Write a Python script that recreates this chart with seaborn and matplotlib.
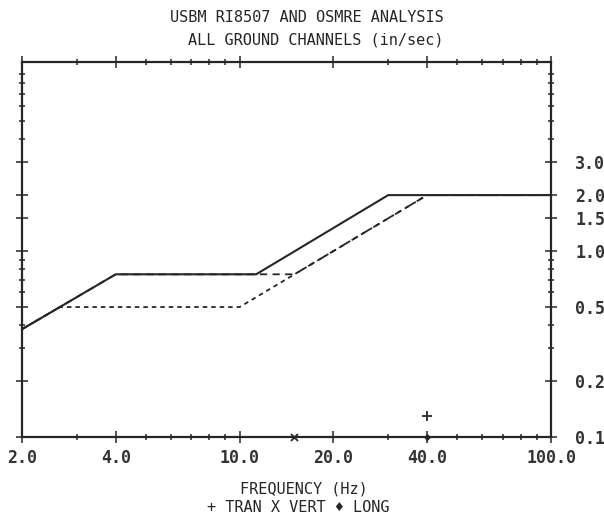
import pandas as pd
import seaborn as sns
import matplotlib.pyplot as plt

# krivulje granicnih brzina (in/sec) u ovisnosti o frekvenciji (Hz)
usbm_hz = [2.0, 4.0, 11.3, 30.0, 100.0]          # puna linija
usbm_ips = [0.38, 0.75, 0.75, 2.0, 2.0]
osmre_hz = [2.0, 4.0, 15.0, 40.0, 100.0]         # isprekidana linija
osmre_ips = [0.38, 0.75, 0.75, 2.0, 2.0]
plaster_hz = [2.0, 2.65, 10.0, 40.0, 100.0]      # tockasta linija
plaster_ips = [0.38, 0.5, 0.5, 2.0, 2.0]

# izmjerene vrsne brzine po kanalima
tran_hz, tran_ips = [40.0], [0.13]
vert_hz, vert_ips = [15.0], [0.1]
long_hz, long_ips = [40.0], [0.1]

x_ticks = [2.0, 4.0, 10.0, 20.0, 40.0, 100.0]
x_labels = ["2.0", "4.0", "10.0", "20.0", "40.0", "100.0"]
x_minor = [3, 5, 6, 7, 8, 9, 30, 50, 60, 70, 80, 90]
y_ticks = [0.1, 0.2, 0.5, 1.0, 1.5, 2.0, 3.0]
y_labels = ["0.1", "0.2", "0.5", "1.0", "1.5", "2.0", "3.0"]
y_minor = [0.3, 0.4, 0.6, 0.7, 0.8, 0.9, 4, 5, 6, 7, 8, 9]

sns.set_style("ticks")
plt.rcParams['font.family'] = ['DejaVu Sans Mono', 'DejaVu Sans']
ink = "#262626"

fig = plt.figure(figsize=(6.04, 5.21), dpi=100)
ax = fig.add_axes([22 / 604, 84 / 521, 529 / 604, 375 / 521])

usbm = pd.DataFrame({"hz": usbm_hz, "ips": usbm_ips})
osmre = pd.DataFrame({"hz": osmre_hz, "ips": osmre_ips})
plaster = pd.DataFrame({"hz": plaster_hz, "ips": plaster_ips})

sns.lineplot(data=plaster, x="hz", y="ips", ax=ax, color=ink, lw=1.3,
             dashes=False, sort=False, estimator=None).lines[-1].set_dashes((2.5, 2.2))
sns.lineplot(data=osmre, x="hz", y="ips", ax=ax, color=ink, lw=1.3,
             sort=False, estimator=None).lines[-1].set_dashes((4, 3))
sns.lineplot(data=usbm, x="hz", y="ips", ax=ax, color=ink, lw=1.5,
             sort=False, estimator=None)

sns.scatterplot(x=tran_hz, y=tran_ips, ax=ax, marker="+", s=45, color=ink,
                linewidth=1.3, clip_on=False)
sns.scatterplot(x=vert_hz, y=vert_ips, ax=ax, marker="x", s=25, color=ink,
                linewidth=1.3, clip_on=False)
sns.scatterplot(x=long_hz, y=long_ips, ax=ax, marker="D", s=14, color=ink,
                linewidth=0, clip_on=False)

ax.set_xscale("log")
ax.set_yscale("log")
ax.set_xlim(2, 100)
ax.set_ylim(0.1, 10.4)

ax.set_xticks(x_ticks)
ax.set_xticklabels(x_labels)
ax.set_xticks(x_minor, minor=True)
ax.set_xticklabels([], minor=True)
ax.set_yticks(y_ticks)
ax.set_yticklabels(y_labels)
ax.set_yticks(y_minor, minor=True)
ax.set_yticklabels([], minor=True)

ax.tick_params(which="both", direction="inout", top=True, right=True, left=True,
               bottom=True, labelleft=False, labelright=True, color=ink, width=1.1)
ax.tick_params(which="major", length=9)
ax.tick_params(which="minor", length=4.5)
ax.tick_params(axis="x", which="major", labelsize=12, pad=4)
ax.tick_params(axis="y", which="major", labelsize=12, pad=13)
for lab in ax.get_xticklabels() + ax.get_yticklabels():
    lab.set_fontweight("bold")
    lab.set_color("#333333")

for sp in ax.spines.values():
    sp.set_visible(True)
    sp.set_linewidth(1.6)
    sp.set_color(ink)

ax.set_xlabel("")
ax.set_ylabel("")

fig.text(307 / 604, 1 - 17 / 521, "USBM RI8507 AND OSMRE ANALYSIS",
         ha="center", va="center", fontsize=11, color=ink)
fig.text(316 / 604, 1 - 40 / 521, "ALL GROUND CHANNELS (in/sec)",
         ha="center", va="center", fontsize=11, color=ink)
fig.text(304 / 604, 1 - 489 / 521, "FREQUENCY (Hz)",
         ha="center", va="center", fontsize=11, color=ink)
fig.text(298 / 604, 1 - 508 / 521, "+ TRAN X VERT \u2666 LONG",
         ha="center", va="center", fontsize=11, color=ink)

fig.savefig("out.png", dpi=100, facecolor="white")
